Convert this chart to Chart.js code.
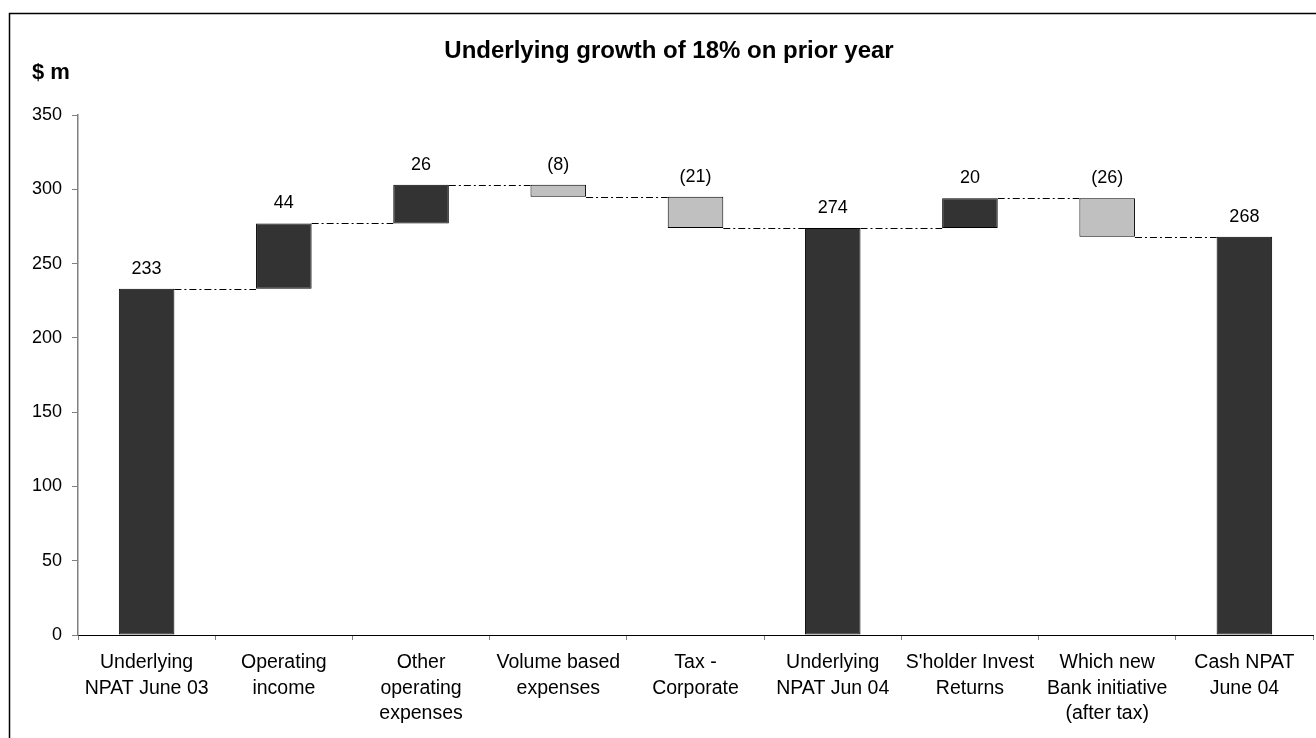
<!DOCTYPE html>
<html>
<head>
<meta charset="utf-8">
<title>Underlying growth of 18% on prior year</title>
<script src="https://cdn.jsdelivr.net/npm/chart.js@4/dist/chart.umd.min.js"></script>
<style>
  html, body { margin: 0; padding: 0; background: #fff; }
  #wrap { position: relative; width: 1316px; height: 738px; }
</style>
</head>
<body>
<div id="wrap"><canvas id="waterfall"></canvas></div>
<script>
const categories = [
  ['Underlying', 'NPAT June 03'],
  ['Operating', 'income'],
  ['Other', 'operating', 'expenses'],
  ['Volume based', 'expenses'],
  ['Tax -', 'Corporate'],
  ['Underlying', 'NPAT Jun 04'],
  ["S'holder Invest", 'Returns'],
  ['Which new', 'Bank initiative', '(after tax)'],
  ['Cash NPAT', 'June 04']
]
const amounts = [233, 44, 26, -8, -21, 274, 20, -26, 268]
const isTotal = [true, false, false, false, false, true, false, false, true]
const yTicks = [0, 50, 100, 150, 200, 250, 300, 350]

const chartTitle = 'Underlying growth of 18% on prior year'
const unitLabel = '$ m'

const FONT = '"Liberation Sans", Arial, sans-serif'
const DARK = '#333333'
const LIGHT = '#c0c0c0'

// build the floating [start, end] ranges of the waterfall
let running = 0
const ranges = amounts.map((v, i) => {
  if (isTotal[i]) {
    running = v
    return [0, v]
  }
  const start = running
  running += v
  return [start, running]
})

const fmt = v => v < 0 ? '(' + (-v) + ')' : String(v)

// connectors, value labels, title and frame
const decorations = {
  id: 'decorations',
  afterDatasetsDraw(chart) {
    const ctx = chart.ctx
    const y = chart.scales.y
    const meta = chart.getDatasetMeta(0)

    // dash-dot connectors between bars
    ctx.save()
    ctx.strokeStyle = '#000'
    ctx.lineWidth = 1
    ctx.setLineDash([7, 3, 2, 3])
    for (let i = 0; i < ranges.length - 1; i++) {
      const a = meta.data[i]
      const b = meta.data[i + 1]
      const py = Math.round(y.getPixelForValue(ranges[i][1])) + 0.5
      ctx.beginPath()
      ctx.moveTo(a.x + a.width / 2, py)
      ctx.lineTo(b.x - b.width / 2, py)
      ctx.stroke()
    }
    ctx.restore()

    // value labels above each bar
    ctx.save()
    ctx.fillStyle = '#000'
    ctx.font = '18px ' + FONT
    ctx.textAlign = 'center'
    ctx.textBaseline = 'middle'
    meta.data.forEach((bar, i) => {
      const top = Math.max(ranges[i][0], ranges[i][1])
      ctx.fillText(fmt(amounts[i]), bar.x, y.getPixelForValue(top) - 20)
    })
    ctx.restore()
  },
  afterDraw(chart) {
    const ctx = chart.ctx
    ctx.save()
    ctx.fillStyle = '#000'
    ctx.textBaseline = 'alphabetic'
    ctx.font = 'bold 24px ' + FONT
    ctx.textAlign = 'center'
    ctx.fillText(chartTitle, 669, 58)
    ctx.font = 'bold 22px ' + FONT
    ctx.textAlign = 'left'
    ctx.fillText(unitLabel, 32, 79)

    // outer frame (runs off the right and bottom of the picture)
    ctx.strokeStyle = '#000'
    ctx.lineWidth = 1.5
    ctx.beginPath()
    ctx.moveTo(9.5, chart.height + 5)
    ctx.lineTo(9.5, 13.5)
    ctx.lineTo(chart.width + 5, 13.5)
    ctx.stroke()
    ctx.restore()
  }
}

Chart.defaults.font.family = FONT
Chart.defaults.color = '#000'

new Chart(document.getElementById('waterfall'), {
  type: 'bar',
  data: {
    labels: categories,
    datasets: [{
      data: ranges,
      backgroundColor: amounts.map((v, i) => (isTotal[i] || v >= 0) ? DARK : LIGHT),
      borderColor: '#000',
      borderWidth: 1,
      borderSkipped: false,
      categoryPercentage: 1,
      barPercentage: 0.405
    }]
  },
  options: {
    responsive: true,
    maintainAspectRatio: false,
    animation: false,
    layout: {
      padding: { top: 115, right: 3, left: 0, bottom: 0 }
    },
    plugins: {
      legend: { display: false },
      tooltip: { enabled: false }
    },
    scales: {
      x: {
        offset: true,
        afterFit(scale) { scale.height = 103 },
        border: { color: '#000', width: 1 },
        grid: {
          offset: true,
          drawOnChartArea: false,
          tickLength: 5,
          color: '#808080'
        },
        ticks: {
          autoSkip: false,
          maxRotation: 0,
          padding: 10,
          color: '#000',
          font: { size: 19.5, lineHeight: 1.31 }
        }
      },
      y: {
        min: 0,
        max: 350,
        afterFit(scale) { scale.width = 78 },
        afterBuildTicks(scale) { scale.ticks = yTicks.map(v => ({ value: v })) },
        border: { color: '#808080', width: 1.5 },
        grid: {
          drawOnChartArea: false,
          tickLength: 6,
          color: '#808080'
        },
        ticks: {
          padding: 10,
          color: '#000',
          font: { size: 18 }
        }
      }
    }
  },
  plugins: [decorations]
})
</script>
</body>
</html>
